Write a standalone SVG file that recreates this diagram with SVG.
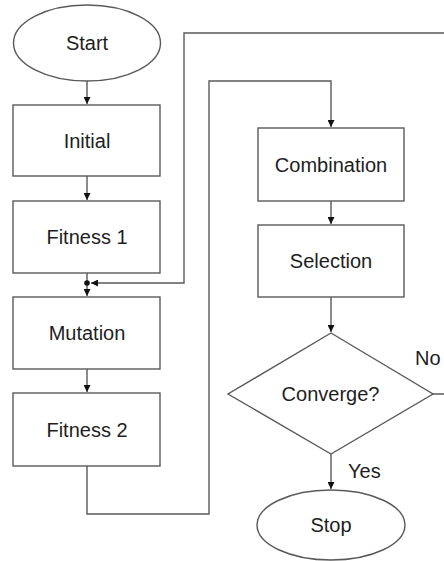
<svg xmlns="http://www.w3.org/2000/svg" width="444" height="561" viewBox="0 0 444 561">
<defs>
<marker id="arr" viewBox="0 0 10 10" refX="10" refY="5" markerWidth="7" markerHeight="7" markerUnits="userSpaceOnUse" orient="auto">
<path d="M0,0 L10,5 L0,10 z" fill="#111"/>
</marker>
<style>
.shape{fill:#fff;stroke:#5a5a5a;stroke-width:1.4}
.lbl{font-family:"Liberation Sans",Arial,sans-serif;font-size:20px;fill:#1e1e1e;text-anchor:middle}
.tag{font-family:"Liberation Sans",Arial,sans-serif;font-size:20px;fill:#1e1e1e}
.conn path{fill:none;stroke:#5a5a5a;stroke-width:1.4}
</style>
</defs>
<rect width="444" height="561" fill="#fff"/>
<g id="connectors" class="conn">
<path d="M87,81 V104" marker-end="url(#arr)"/>
<path d="M87,176 V200" marker-end="url(#arr)"/>
<path d="M87,273 V296" marker-end="url(#arr)"/>
<path d="M87,369 V392" marker-end="url(#arr)"/>
<path d="M331,201 V224" marker-end="url(#arr)"/>
<path d="M331,297 V332" marker-end="url(#arr)"/>
<path d="M331,454 V489" marker-end="url(#arr)"/>
<path d="M87,466 V514 H209 V81 H331 V127" marker-end="url(#arr)"/>
<path d="M433,394 H452 V33 H184 V283 H91" marker-end="url(#arr)"/>
<circle cx="87" cy="283" r="2.8" fill="#111"/>
</g>
<g id="start"><ellipse class="shape" cx="87" cy="43" rx="73.5" ry="38"/><text class="lbl" x="87" y="50">Start</text></g>
<g id="initial"><rect class="shape" x="13" y="105" width="147" height="71"/><text class="lbl" x="87" y="147.5">Initial</text></g>
<g id="fitness1"><rect class="shape" x="13" y="201" width="147" height="72"/><text class="lbl" x="87" y="244">Fitness 1</text></g>
<g id="mutation"><rect class="shape" x="13" y="297" width="147" height="72"/><text class="lbl" x="87" y="340">Mutation</text></g>
<g id="fitness2"><rect class="shape" x="13" y="393" width="147" height="73"/><text class="lbl" x="87" y="436.5">Fitness 2</text></g>
<g id="combination"><rect class="shape" x="258" y="128" width="146" height="73"/><text class="lbl" x="331" y="171.5">Combination</text></g>
<g id="selection"><rect class="shape" x="258" y="225" width="146" height="72"/><text class="lbl" x="331" y="268">Selection</text></g>
<g id="converge"><polygon class="shape" points="331,333 433,394 331,454 228,394"/><text class="lbl" x="330.5" y="401">Converge?</text></g>
<g id="stop"><ellipse class="shape" cx="331" cy="525" rx="74" ry="35"/><text class="lbl" x="331" y="532">Stop</text></g>
<text class="tag" x="415" y="365">No</text>
<text class="tag" x="348" y="478">Yes</text>
</svg>
